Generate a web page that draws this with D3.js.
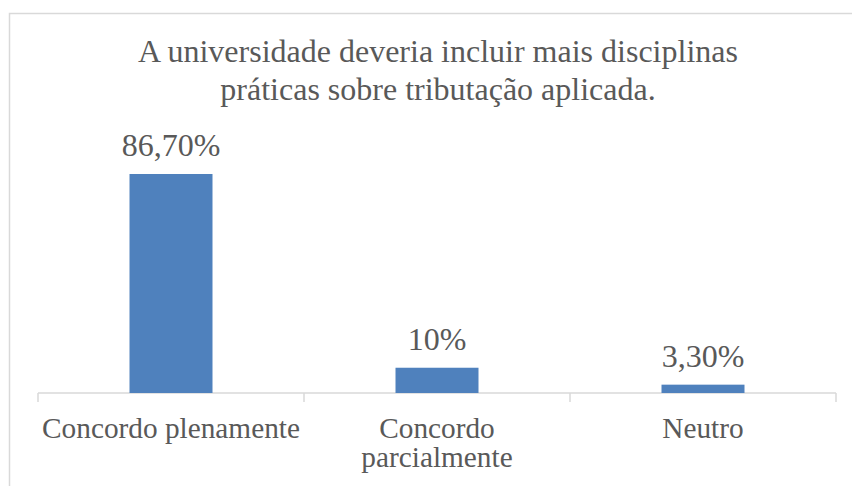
<!DOCTYPE html>
<html>
<head>
<meta charset="utf-8">
<script src="https://cdn.jsdelivr.net/npm/d3@7"></script>
<style>
  html, body { margin: 0; padding: 0; background: #fff; }
  svg { display: block; }
  text { font-family: "Liberation Serif", "Times New Roman", serif; fill: #595959; }
</style>
</head>
<body>
<script>
const categories = ["Concordo plenamente", "Concordo parcialmente", "Neutro"];
const categoryLines = [["Concordo plenamente"], ["Concordo", "parcialmente"], ["Neutro"]];
const values = [86.7, 10, 3.3];
const valueLabels = ["86,70%", "10%", "3,30%"];
const titleLines = ["A universidade deveria incluir mais disciplinas", "práticas sobre tributação aplicada."];

const W = 852, H = 486;
const fsCat = 29.3, fsBig = 32;
const svg = d3.select("body").append("svg").attr("width", W).attr("height", H);

// chart border
svg.append("rect").attr("x", 9.5).attr("y", 13.5).attr("width", 900).attr("height", 600)
  .attr("fill", "#fff").attr("stroke", "#d9d9d9").attr("stroke-width", 1.5);

// title
svg.append("g").selectAll("text").data(titleLines).join("text")
  .attr("x", 438).attr("y", (d, i) => 62 + i * 38)
  .attr("text-anchor", "middle").style("font-size", fsBig + "px").text(d => d);

const x = d3.scaleBand().domain(categories).range([38, 836]).padding(0);
const y = d3.scaleLinear().domain([0, 100]).range([393, 140.4]);
const barW = x.bandwidth() * 0.312;

// axis line and ticks
const axisG = svg.append("g").attr("transform", "translate(0,393)");
axisG.append("line").attr("x1", 38).attr("x2", 836).attr("y1", 0).attr("y2", 0)
  .attr("stroke", "#d9d9d9").attr("stroke-width", 1.5);
const tickPos = categories.map(c => x(c)).concat([x(categories[categories.length - 1]) + x.bandwidth()]);
axisG.selectAll("line.tick").data(tickPos).join("line").attr("class", "tick")
  .attr("x1", d => d).attr("x2", d => d).attr("y1", 0).attr("y2", 9)
  .attr("stroke", "#d9d9d9").attr("stroke-width", 1.5);

// bars
svg.append("g").selectAll("rect").data(values).join("rect")
  .attr("x", (d, i) => x(categories[i]) + x.bandwidth() / 2 - barW / 2)
  .attr("y", d => y(d))
  .attr("width", barW)
  .attr("height", d => y(0) - y(d))
  .attr("fill", "#4f81bd");

// value labels
svg.append("g").selectAll("text").data(values).join("text")
  .attr("x", (d, i) => x(categories[i]) + x.bandwidth() / 2)
  .attr("y", d => y(d) - 18)
  .attr("text-anchor", "middle").style("font-size", fsBig + "px")
  .text((d, i) => valueLabels[i]);

// category labels
const catG = svg.append("g");
categories.forEach((c, i) => {
  const t = catG.append("text").attr("text-anchor", "middle").style("font-size", fsCat + "px");
  categoryLines[i].forEach((line, j) => {
    t.append("tspan").attr("x", x(c) + x.bandwidth() / 2).attr("y", 438 + j * 29).text(line);
  });
});
</script>
</body>
</html>
